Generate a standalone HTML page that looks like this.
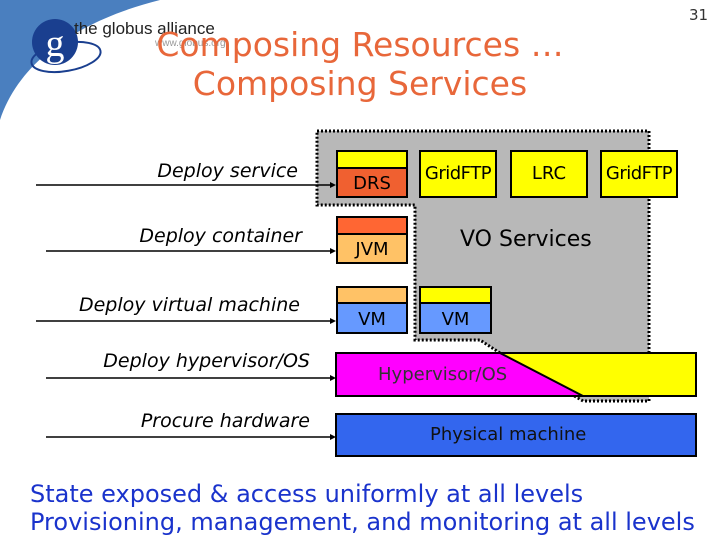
<!DOCTYPE html>
<html><head><style>
body{margin:0;width:720px;height:540px;background:#fff;position:relative;overflow:hidden;font-family:"DejaVu Sans","Liberation Sans",sans-serif}
.t{position:absolute;white-space:nowrap}
.lab{position:absolute;font-style:italic;font-size:19px;color:#000;text-align:right;width:300px}
.b{position:absolute;box-sizing:border-box;border:2px solid #000}
</style></head><body>
<svg width="720" height="540" style="position:absolute;left:0;top:0">
<path d="M0 0 H160 C80 20 20 60 0 120 Z" fill="#4a7fbf"/>
<ellipse cx="66" cy="57" rx="35" ry="14" fill="none" stroke="#1a3f8f" stroke-width="2" transform="rotate(-10 66 57)"/>
<circle cx="55" cy="42" r="23" fill="#1a3f8f"/>
<text x="55" y="56" font-family="Liberation Serif" font-size="38" fill="#fff" text-anchor="middle">g</text>
<text x="74" y="34" font-family="Liberation Sans" font-size="17" fill="#222">the globus alliance</text>
<text x="155" y="46" font-family="Liberation Sans" font-size="10" fill="#999">www.globus.org</text>
<polygon points="317,131 649,131 649,401 583,401 500,353 480,340 415,340 415,205 317,205" fill="#b8b8b8" stroke="#000" stroke-width="3" stroke-dasharray="2,2"/>
<g stroke="#000" stroke-width="1.5">
<line x1="36" y1="185" x2="334" y2="185"/><line x1="46" y1="251" x2="334" y2="251"/>
<line x1="36" y1="321" x2="334" y2="321"/><line x1="46" y1="378" x2="334" y2="378"/>
<line x1="46" y1="437" x2="334" y2="437"/>
</g>
<g fill="#000">
<polygon points="336,185 330,182 330,188"/><polygon points="336,251 330,248 330,254"/>
<polygon points="336,321 330,318 330,324"/><polygon points="336,378 330,375 330,381"/>
<polygon points="336,437 330,434 330,440"/>
</g>
<rect x="336" y="353" width="360" height="43" fill="#ff00ff" stroke="#000" stroke-width="2"/>
<polygon points="500,353 696,353 696,396 583,396" fill="#ffff00" stroke="#000" stroke-width="2"/>
<rect x="336" y="414" width="360" height="42" fill="#3366ee" stroke="#000" stroke-width="2"/>
</svg>
<div class="t" style="left:0;width:720px;text-align:center;top:25px;font-size:33px;color:#e8673a;line-height:39px">Composing Resources …<br>Composing Services</div>
<div class="t" style="left:689px;top:6px;font-size:15px;color:#333">31</div>
<div class="lab" style="left:-2px;top:160px">Deploy service</div>
<div class="lab" style="left:2px;top:225px">Deploy container</div>
<div class="lab" style="left:0;top:294px">Deploy virtual machine</div>
<div class="lab" style="left:10px;top:350px">Deploy hypervisor/OS</div>
<div class="lab" style="left:10px;top:410px">Procure hardware</div>
<div class="b" style="left:336px;top:150px;width:72px;height:48px;background:#ffff00"></div>
<div class="b" style="left:336px;top:167px;width:72px;height:31px;background:#f06030;font-size:18px;text-align:center;line-height:30px">DRS</div>
<div class="b" style="left:419px;top:150px;width:78px;height:48px;background:#ffff00;font-size:18px;line-height:44px;text-align:center;letter-spacing:-0.5px">GridFTP</div>
<div class="b" style="left:510px;top:150px;width:78px;height:48px;background:#ffff00;font-size:18px;line-height:44px;text-align:center">LRC</div>
<div class="b" style="left:600px;top:150px;width:78px;height:48px;background:#ffff00;font-size:18px;line-height:44px;text-align:center;letter-spacing:-0.5px">GridFTP</div>
<div class="b" style="left:336px;top:216px;width:72px;height:48px;background:#ff6633"></div>
<div class="b" style="left:336px;top:233px;width:72px;height:31px;background:#ffc266;font-size:18px;text-align:center;line-height:30px">JVM</div>
<div class="t" style="left:460px;top:227px;font-size:22px">VO Services</div>
<div class="b" style="left:336px;top:286px;width:72px;height:48px;background:#ffc266"></div>
<div class="b" style="left:336px;top:302px;width:72px;height:32px;background:#6699ff;font-size:18px;text-align:center;line-height:32px">VM</div>
<div class="b" style="left:419px;top:286px;width:73px;height:48px;background:#ffff00"></div>
<div class="b" style="left:419px;top:302px;width:73px;height:32px;background:#6699ff;font-size:18px;text-align:center;line-height:32px">VM</div>
<div class="t" style="left:378px;top:364px;font-size:18px;color:#333">Hypervisor/OS</div>
<div class="t" style="left:430px;top:424px;font-size:18px;color:#111">Physical machine</div>
<div class="t" style="left:30px;top:480px;font-size:24px;color:#1a33cc;line-height:28px">State exposed &amp; access uniformly at all levels<br>Provisioning, management, and monitoring at all levels</div>
</body></html>
